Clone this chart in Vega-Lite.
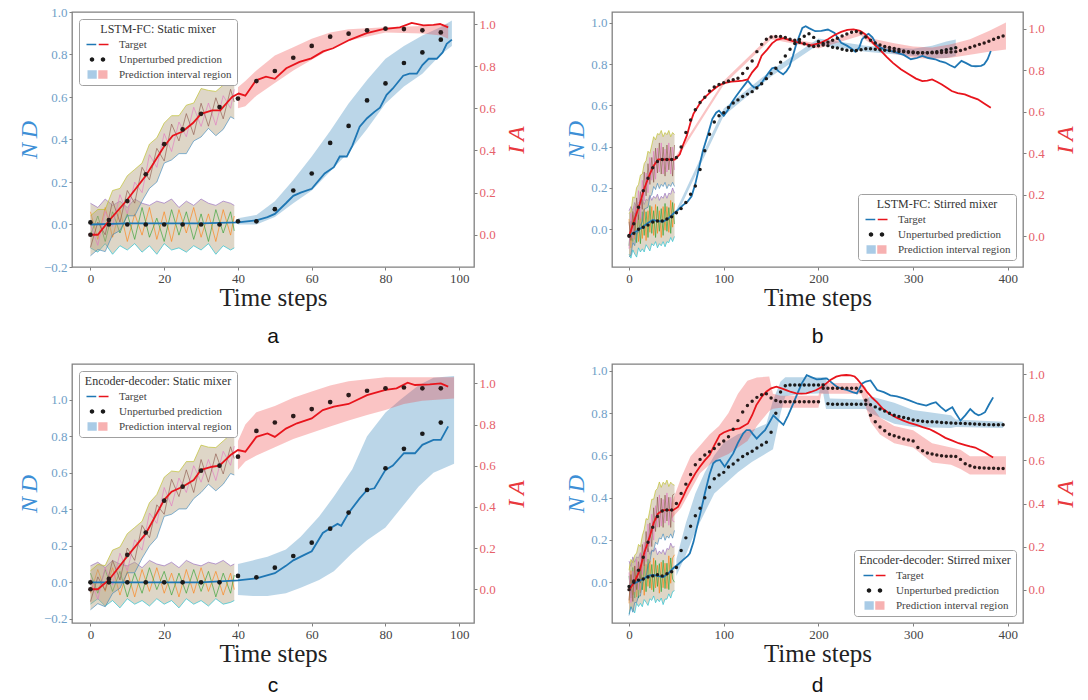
{
"$schema": "https://vega.github.io/schema/vega-lite/v6.json",
"padding": {"left": 16, "top": 5, "right": 0, "bottom": 0},
"background": "white",
"config": {
 "font": "Liberation Serif",
 "view": {"stroke": "#808080", "strokeWidth": 1.3},
 "axis": {"grid": false, "domain": false, "tickSize": 3, "tickColor": "#808080", "labelFont": "Liberation Serif", "labelFontSize": 13, "labelPadding": 2, "titleFont": "Liberation Serif", "titleFontWeight": "normal"},
 "axisX": {"labelColor": "#444444", "titleFontSize": 25, "titleColor": "#222222", "titlePadding": 0, "labelFlush": false, "format": "d"},
 "legend": {"fillColor": "white", "strokeColor": "#a0a0a0", "cornerRadius": 3, "padding": 5, "offset": 7, "titleFont": "Liberation Serif", "titleFontSize": 12, "titleFontWeight": "normal", "titleColor": "#333333", "titleAlign": "center", "titleAnchor": "middle", "titlePadding": 3, "labelFont": "Liberation Serif", "labelFontSize": 11, "labelColor": "#444444", "symbolSize": 100, "symbolOffset": 8, "labelOffset": 16, "rowPadding": 3, "symbolOpacity": 1, "symbolStrokeWidth": 0, "labelLimit": 220},
 "title": {"font": "Liberation Sans", "fontSize": 21, "fontWeight": "normal", "color": "#111111", "anchor": "middle"}
},
"datasets": {
 "leg": [{"lab": "Target"}, {"lab": "Unperturbed prediction"}, {"lab": "Prediction interval region"}],
 "a_nl": [{"t":0,"v":0},{"t":10,"v":0.005},{"t":20,"v":0.005},{"t":30,"v":0.005},{"t":40,"v":0.01},{"t":45,"v":0.02},{"t":48,"v":0.035},{"t":50,"v":0.05},{"t":53,"v":0.1},{"t":55,"v":0.135},{"t":57,"v":0.15},{"t":60,"v":0.168},{"t":63.5,"v":0.24},{"t":66,"v":0.27},{"t":67.6,"v":0.32},{"t":69.5,"v":0.32},{"t":71,"v":0.37},{"t":73,"v":0.46},{"t":75,"v":0.5},{"t":77,"v":0.53},{"t":78.5,"v":0.55},{"t":80.3,"v":0.61},{"t":82,"v":0.64},{"t":84.8,"v":0.7},{"t":86.5,"v":0.71},{"t":88.5,"v":0.71},{"t":90,"v":0.75},{"t":91.7,"v":0.78},{"t":93.9,"v":0.78},{"t":95.5,"v":0.81},{"t":96.6,"v":0.85},{"t":98,"v":0.87}],
 "a_il": [{"t":0,"v":0},{"t":2,"v":0},{"t":5.2,"v":0.07},{"t":9.7,"v":0.16},{"t":15,"v":0.28},{"t":20,"v":0.42},{"t":22.3,"v":0.47},{"t":25,"v":0.49},{"t":27.8,"v":0.53},{"t":30,"v":0.574},{"t":33,"v":0.59},{"t":35.2,"v":0.59},{"t":38.4,"v":0.654},{"t":40.2,"v":0.67},{"t":42,"v":0.66},{"t":44.9,"v":0.733},{"t":47.6,"v":0.75},{"t":50,"v":0.74},{"t":53.1,"v":0.79},{"t":56.7,"v":0.82},{"t":59.9,"v":0.837},{"t":63.1,"v":0.87},{"t":65.8,"v":0.885},{"t":70.3,"v":0.925},{"t":74.9,"v":0.957},{"t":79.4,"v":0.976},{"t":83.9,"v":0.984},{"t":87.1,"v":1.005},{"t":90.3,"v":0.994},{"t":93,"v":0.996},{"t":94.8,"v":1.0},{"t":97,"v":0.984}],
 "a_nd": [{"t":0,"v":0.01},{"t":5,"v":0},{"t":10,"v":0},{"t":15,"v":0},{"t":20,"v":0},{"t":25,"v":0},{"t":30,"v":0},{"t":35,"v":0},{"t":40,"v":0.015},{"t":45,"v":0.015},{"t":50,"v":0.072},{"t":55,"v":0.16},{"t":60,"v":0.24},{"t":65,"v":0.384},{"t":70,"v":0.464},{"t":75,"v":0.584},{"t":80,"v":0.664},{"t":85,"v":0.76},{"t":90,"v":0.81},{"t":95,"v":0.87}],
 "a_id": [{"t":0,"v":0},{"t":5,"v":0.07},{"t":10,"v":0.16},{"t":15,"v":0.287},{"t":20,"v":0.43},{"t":25,"v":0.5},{"t":30,"v":0.574},{"t":35,"v":0.606},{"t":40,"v":0.646},{"t":45,"v":0.729},{"t":50,"v":0.777},{"t":55,"v":0.84},{"t":60,"v":0.896},{"t":65,"v":0.94},{"t":70,"v":0.954},{"t":75,"v":0.97},{"t":80,"v":0.978},{"t":85,"v":0.976},{"t":90,"v":0.97},{"t":95,"v":0.96}],
 "a_nb": [{"t":40,"lo":0,"hi":0.03},{"t":45,"lo":0,"hi":0.045},{"t":50,"lo":0.035,"hi":0.11},{"t":55,"lo":0.1,"hi":0.21},{"t":60,"lo":0.16,"hi":0.32},{"t":65,"lo":0.25,"hi":0.44},{"t":70,"lo":0.34,"hi":0.57},{"t":75,"lo":0.45,"hi":0.68},{"t":80,"lo":0.57,"hi":0.78},{"t":85,"lo":0.65,"hi":0.84},{"t":90,"lo":0.71,"hi":0.89},{"t":95,"lo":0.8,"hi":0.93},{"t":98,"lo":0.84,"hi":0.96}],
 "a_ib": [{"t":40,"lo":0.6,"hi":0.7},{"t":42,"lo":0.61,"hi":0.73},{"t":45,"lo":0.66,"hi":0.78},{"t":50,"lo":0.72,"hi":0.85},{"t":55,"lo":0.78,"hi":0.89},{"t":60,"lo":0.83,"hi":0.93},{"t":65,"lo":0.88,"hi":0.96},{"t":70,"lo":0.92,"hi":0.975},{"t":80,"lo":0.96,"hi":0.985},{"t":90,"lo":0.955,"hi":0.99},{"t":95,"lo":0.945,"hi":0.995},{"t":97,"lo":0.93,"hi":1.0}],
 "a_nn": [{"t":0,"lo":-0.11,"hi":0.1,"z1":0.06,"z2":-0.05},{"t":2,"lo":-0.13,"hi":0.08,"z1":-0.07,"z2":0.04},{"t":4,"lo":-0.09,"hi":0.12,"z1":0.08,"z2":-0.08},{"t":6,"lo":-0.14,"hi":0.09,"z1":-0.06,"z2":0.06},{"t":8,"lo":-0.1,"hi":0.11,"z1":0.07,"z2":-0.04},{"t":10,"lo":-0.12,"hi":0.08,"z1":-0.08,"z2":0.05},{"t":12,"lo":-0.09,"hi":0.12,"z1":0.05,"z2":-0.07},{"t":14,"lo":-0.13,"hi":0.1,"z1":-0.05,"z2":0.08},{"t":16,"lo":-0.1,"hi":0.09,"z1":0.08,"z2":-0.06},{"t":18,"lo":-0.14,"hi":0.11,"z1":-0.07,"z2":0.03},{"t":20,"lo":-0.09,"hi":0.1,"z1":0.06,"z2":-0.08},{"t":22,"lo":-0.12,"hi":0.12,"z1":-0.08,"z2":0.07},{"t":24,"lo":-0.11,"hi":0.08,"z1":0.07,"z2":-0.05},{"t":26,"lo":-0.13,"hi":0.11,"z1":-0.04,"z2":0.06},{"t":28,"lo":-0.1,"hi":0.09,"z1":0.08,"z2":-0.07},{"t":30,"lo":-0.12,"hi":0.12,"z1":-0.06,"z2":0.05},{"t":32,"lo":-0.09,"hi":0.1,"z1":0.05,"z2":-0.08},{"t":34,"lo":-0.14,"hi":0.09,"z1":-0.08,"z2":0.07},{"t":36,"lo":-0.1,"hi":0.11,"z1":0.07,"z2":-0.04},{"t":38,"lo":-0.12,"hi":0.1,"z1":-0.05,"z2":0.06},{"t":39,"lo":-0.11,"hi":0.09,"z1":0.04,"z2":-0.03}],
 "a_in": [{"t":0,"lo":-0.1,"hi":0.09,"z1":0.05,"z2":-0.06},{"t":2,"lo":-0.07,"hi":0.12,"z1":-0.05,"z2":0.06},{"t":4,"lo":-0.08,"hi":0.12,"z1":0.11,"z2":0},{"t":6,"lo":0,"hi":0.21,"z1":0.04,"z2":0.16},{"t":8,"lo":0.02,"hi":0.22,"z1":0.19,"z2":0.06},{"t":10,"lo":0.09,"hi":0.28,"z1":0.1,"z2":0.21},{"t":12,"lo":0.09,"hi":0.31,"z1":0.25,"z2":0.15},{"t":14,"lo":0.16,"hi":0.34,"z1":0.2,"z2":0.32},{"t":16,"lo":0.22,"hi":0.43,"z1":0.38,"z2":0.26},{"t":18,"lo":0.25,"hi":0.46,"z1":0.32,"z2":0.41},{"t":20,"lo":0.34,"hi":0.53,"z1":0.48,"z2":0.35},{"t":22,"lo":0.355,"hi":0.565,"z1":0.395,"z2":0.525},{"t":24,"lo":0.385,"hi":0.565,"z1":0.535,"z2":0.445},{"t":26,"lo":0.385,"hi":0.615,"z1":0.465,"z2":0.575},{"t":28,"lo":0.445,"hi":0.625,"z1":0.605,"z2":0.475},{"t":30,"lo":0.464,"hi":0.694,"z1":0.514,"z2":0.624},{"t":32,"lo":0.505,"hi":0.685,"z1":0.625,"z2":0.515},{"t":34,"lo":0.47,"hi":0.68,"z1":0.52,"z2":0.65},{"t":36,"lo":0.5,"hi":0.71,"z1":0.66,"z2":0.55},{"t":38,"lo":0.56,"hi":0.75,"z1":0.6,"z2":0.69},{"t":39,"lo":0.55,"hi":0.75,"z1":0.69,"z2":0.63}],
 "b_nl": [{"t":0,"v":-0.03},{"t":8,"v":-0.01},{"t":15,"v":0.013},{"t":20,"v":0.03},{"t":25,"v":0.045},{"t":30,"v":0.04},{"t":36,"v":0.037},{"t":41,"v":0.05},{"t":47,"v":0.077},{"t":52,"v":0.095},{"t":57,"v":0.117},{"t":62,"v":0.135},{"t":66,"v":0.16},{"t":70,"v":0.22},{"t":74,"v":0.3},{"t":78,"v":0.38},{"t":83,"v":0.455},{"t":88,"v":0.535},{"t":92,"v":0.565},{"t":95,"v":0.575},{"t":100,"v":0.55},{"t":104,"v":0.575},{"t":108.5,"v":0.615},{"t":113,"v":0.645},{"t":118.6,"v":0.68},{"t":122,"v":0.7},{"t":125.4,"v":0.72},{"t":129,"v":0.7},{"t":132,"v":0.687},{"t":135,"v":0.69},{"t":139,"v":0.703},{"t":143,"v":0.73},{"t":147.5,"v":0.76},{"t":151,"v":0.78},{"t":154,"v":0.784},{"t":158,"v":0.765},{"t":162.7,"v":0.751},{"t":166,"v":0.765},{"t":169.5,"v":0.79},{"t":173,"v":0.84},{"t":176,"v":0.888},{"t":180,"v":0.94},{"t":183,"v":0.976},{"t":186.5,"v":0.984},{"t":190,"v":0.975},{"t":196.6,"v":0.96},{"t":203,"v":0.962},{"t":210,"v":0.968},{"t":217,"v":0.952},{"t":220,"v":0.93},{"t":224,"v":0.904},{"t":230,"v":0.89},{"t":235,"v":0.875},{"t":239,"v":0.86},{"t":243,"v":0.88},{"t":246,"v":0.92},{"t":250,"v":0.94},{"t":253,"v":0.947},{"t":257,"v":0.93},{"t":262,"v":0.89},{"t":270,"v":0.87},{"t":280,"v":0.86},{"t":290,"v":0.845},{"t":297.6,"v":0.824},{"t":304,"v":0.83},{"t":309.7,"v":0.84},{"t":316,"v":0.83},{"t":323.4,"v":0.824},{"t":328,"v":0.815},{"t":333.8,"v":0.808},{"t":339,"v":0.795},{"t":344,"v":0.784},{"t":347.5,"v":0.8},{"t":351,"v":0.816},{"t":356,"v":0.805},{"t":361.4,"v":0.792},{"t":366,"v":0.79},{"t":371.7,"v":0.792},{"t":375,"v":0.8},{"t":378.6,"v":0.824},{"t":382,"v":0.864}],
 "b_il": [{"t":0,"v":0},{"t":5,"v":0.07},{"t":11.3,"v":0.156},{"t":16,"v":0.23},{"t":21.9,"v":0.3},{"t":26,"v":0.34},{"t":30.7,"v":0.37},{"t":37.7,"v":0.37},{"t":43,"v":0.37},{"t":48.3,"v":0.37},{"t":53.6,"v":0.395},{"t":57,"v":0.44},{"t":61,"v":0.485},{"t":65,"v":0.55},{"t":68,"v":0.59},{"t":71,"v":0.612},{"t":76,"v":0.65},{"t":81.4,"v":0.676},{"t":86,"v":0.695},{"t":91.5,"v":0.716},{"t":96,"v":0.73},{"t":101.7,"v":0.74},{"t":108,"v":0.745},{"t":115.3,"v":0.748},{"t":120,"v":0.75},{"t":125.4,"v":0.756},{"t":130,"v":0.79},{"t":135.6,"v":0.82},{"t":140,"v":0.87},{"t":145.8,"v":0.9},{"t":151,"v":0.93},{"t":156,"v":0.947},{"t":162.7,"v":0.955},{"t":168,"v":0.948},{"t":173,"v":0.94},{"t":183,"v":0.93},{"t":193,"v":0.92},{"t":203.4,"v":0.935},{"t":210,"v":0.95},{"t":217,"v":0.97},{"t":224,"v":0.985},{"t":230.5,"v":0.995},{"t":237,"v":0.997},{"t":244,"v":0.99},{"t":249,"v":0.975},{"t":254.5,"v":0.947},{"t":260,"v":0.92},{"t":264.8,"v":0.9},{"t":272,"v":0.865},{"t":278.6,"v":0.836},{"t":287,"v":0.805},{"t":295.9,"v":0.78},{"t":303,"v":0.76},{"t":309.7,"v":0.748},{"t":315,"v":0.75},{"t":320,"v":0.756},{"t":325,"v":0.745},{"t":330.3,"v":0.732},{"t":336,"v":0.715},{"t":340.7,"v":0.7},{"t":347,"v":0.69},{"t":354.5,"v":0.684},{"t":361,"v":0.672},{"t":368.3,"v":0.66},{"t":375,"v":0.64},{"t":382,"v":0.62}],
 "b_nd": [{"t":0,"v":-0.03},{"t":5,"v":-0.02},{"t":10,"v":0},{"t":15,"v":0.01},{"t":20,"v":0.02},{"t":25,"v":0.035},{"t":30,"v":0.04},{"t":35,"v":0.04},{"t":40,"v":0.05},{"t":45,"v":0.06},{"t":50,"v":0.08},{"t":55,"v":0.1},{"t":60,"v":0.13},{"t":65,"v":0.17},{"t":70,"v":0.21},{"t":75,"v":0.29},{"t":80,"v":0.38},{"t":85,"v":0.46},{"t":90,"v":0.52},{"t":95,"v":0.55},{"t":100,"v":0.565},{"t":105,"v":0.59},{"t":110,"v":0.612},{"t":115,"v":0.627},{"t":120,"v":0.643},{"t":125,"v":0.655},{"t":130,"v":0.667},{"t":135,"v":0.685},{"t":140,"v":0.705},{"t":145,"v":0.73},{"t":150,"v":0.755},{"t":155,"v":0.78},{"t":160,"v":0.81},{"t":165,"v":0.84},{"t":170,"v":0.872},{"t":175,"v":0.9},{"t":180,"v":0.92},{"t":185,"v":0.935},{"t":190,"v":0.948},{"t":195,"v":0.93},{"t":200,"v":0.91},{"t":205,"v":0.9},{"t":210,"v":0.89},{"t":215,"v":0.882},{"t":220,"v":0.878},{"t":225,"v":0.872},{"t":230,"v":0.868},{"t":235,"v":0.866},{"t":240,"v":0.866},{"t":245,"v":0.87},{"t":250,"v":0.875},{"t":255,"v":0.875},{"t":260,"v":0.872},{"t":265,"v":0.87},{"t":270,"v":0.868},{"t":275,"v":0.866},{"t":280,"v":0.864},{"t":285,"v":0.862},{"t":290,"v":0.86},{"t":295,"v":0.858},{"t":300,"v":0.856},{"t":305,"v":0.855},{"t":310,"v":0.855},{"t":315,"v":0.856},{"t":320,"v":0.858},{"t":325,"v":0.86},{"t":330,"v":0.865},{"t":335,"v":0.87},{"t":340,"v":0.875},{"t":345,"v":0.88}],
 "b_id": [{"t":0,"v":0},{"t":5,"v":0.06},{"t":10,"v":0.14},{"t":15,"v":0.22},{"t":20,"v":0.28},{"t":25,"v":0.33},{"t":30,"v":0.36},{"t":35,"v":0.37},{"t":40,"v":0.37},{"t":45,"v":0.37},{"t":50,"v":0.38},{"t":55,"v":0.43},{"t":60,"v":0.5},{"t":65,"v":0.56},{"t":70,"v":0.61},{"t":75,"v":0.645},{"t":80,"v":0.67},{"t":85,"v":0.7},{"t":90,"v":0.72},{"t":95,"v":0.732},{"t":100,"v":0.74},{"t":105,"v":0.748},{"t":110,"v":0.755},{"t":115,"v":0.762},{"t":120,"v":0.785},{"t":125,"v":0.81},{"t":130,"v":0.845},{"t":135,"v":0.89},{"t":140,"v":0.925},{"t":145,"v":0.95},{"t":150,"v":0.96},{"t":155,"v":0.963},{"t":160,"v":0.963},{"t":165,"v":0.958},{"t":170,"v":0.95},{"t":175,"v":0.945},{"t":180,"v":0.935},{"t":185,"v":0.928},{"t":190,"v":0.918},{"t":195,"v":0.915},{"t":200,"v":0.918},{"t":205,"v":0.922},{"t":210,"v":0.935},{"t":215,"v":0.945},{"t":220,"v":0.955},{"t":225,"v":0.965},{"t":230,"v":0.975},{"t":235,"v":0.983},{"t":240,"v":0.987},{"t":245,"v":0.98},{"t":250,"v":0.96},{"t":255,"v":0.945},{"t":260,"v":0.932},{"t":265,"v":0.922},{"t":270,"v":0.915},{"t":275,"v":0.91},{"t":280,"v":0.905},{"t":285,"v":0.9},{"t":290,"v":0.893},{"t":295,"v":0.89},{"t":300,"v":0.888},{"t":305,"v":0.885},{"t":310,"v":0.884},{"t":315,"v":0.884},{"t":320,"v":0.884},{"t":325,"v":0.885},{"t":330,"v":0.886},{"t":335,"v":0.887},{"t":340,"v":0.888},{"t":345,"v":0.89},{"t":350,"v":0.895},{"t":355,"v":0.902},{"t":360,"v":0.91},{"t":365,"v":0.917},{"t":370,"v":0.925},{"t":375,"v":0.932},{"t":380,"v":0.94},{"t":385,"v":0.95},{"t":390,"v":0.958},{"t":395,"v":0.965}],
 "b_nb": [{"t":50,"lo":0.065,"hi":0.095},{"t":100,"lo":0.55,"hi":0.585},{"t":150,"lo":0.74,"hi":0.77},{"t":200,"lo":0.895,"hi":0.925},{"t":250,"lo":0.86,"hi":0.89},{"t":300,"lo":0.84,"hi":0.875},{"t":320,"lo":0.83,"hi":0.89},{"t":335,"lo":0.83,"hi":0.91},{"t":345,"lo":0.84,"hi":0.92}],
 "b_ib": [{"t":50,"lo":0.37,"hi":0.39},{"t":100,"lo":0.73,"hi":0.75},{"t":150,"lo":0.95,"hi":0.97},{"t":200,"lo":0.905,"hi":0.928},{"t":245,"lo":0.968,"hi":0.99},{"t":250,"lo":0.945,"hi":0.97},{"t":260,"lo":0.915,"hi":0.95},{"t":280,"lo":0.88,"hi":0.93},{"t":300,"lo":0.86,"hi":0.915},{"t":320,"lo":0.855,"hi":0.91},{"t":340,"lo":0.86,"hi":0.925},{"t":360,"lo":0.875,"hi":0.95},{"t":380,"lo":0.89,"hi":0.99},{"t":398,"lo":0.9,"hi":1.03}],
 "b_nn": [{"t":0,"lo":-0.12,"hi":0.09,"z1":0.05,"z2":-0.08},{"t":2,"lo":-0.14,"hi":0.11,"z1":-0.09,"z2":0.04},{"t":4,"lo":-0.1,"hi":0.09,"z1":0.07,"z2":-0.06},{"t":6,"lo":-0.12,"hi":0.13,"z1":-0.05,"z2":0.08},{"t":8,"lo":-0.135,"hi":0.105,"z1":0.085,"z2":-0.065},{"t":10,"lo":-0.09,"hi":0.13,"z1":-0.06,"z2":0.07},{"t":12,"lo":-0.11,"hi":0.12,"z1":0.06,"z2":-0.07},{"t":14,"lo":-0.095,"hi":0.145,"z1":-0.045,"z2":0.085},{"t":16,"lo":-0.11,"hi":0.12,"z1":0.1,"z2":-0.03},{"t":18,"lo":-0.075,"hi":0.145,"z1":-0.055,"z2":0.085},{"t":20,"lo":-0.09,"hi":0.14,"z1":0.09,"z2":-0.04},{"t":22,"lo":-0.105,"hi":0.165,"z1":-0.015,"z2":0.115},{"t":24,"lo":-0.07,"hi":0.14,"z1":0.11,"z2":-0.02},{"t":26,"lo":-0.08,"hi":0.16,"z1":-0.03,"z2":0.09},{"t":28,"lo":-0.06,"hi":0.15,"z1":0.12,"z2":-0.04},{"t":30,"lo":-0.09,"hi":0.17,"z1":-0.02,"z2":0.11},{"t":32,"lo":-0.07,"hi":0.14,"z1":0.09,"z2":-0.01},{"t":34,"lo":-0.08,"hi":0.16,"z1":-0.04,"z2":0.1},{"t":36,"lo":-0.06,"hi":0.15,"z1":0.11,"z2":-0.03},{"t":38,"lo":-0.085,"hi":0.175,"z1":-0.005,"z2":0.125},{"t":40,"lo":-0.06,"hi":0.15,"z1":0.11,"z2":-0.01},{"t":42,"lo":-0.065,"hi":0.175,"z1":-0.015,"z2":0.105},{"t":44,"lo":-0.04,"hi":0.17,"z1":0.14,"z2":-0.02},{"t":46,"lo":-0.06,"hi":0.2,"z1":0.01,"z2":0.13},{"t":48,"lo":-0.035,"hi":0.175,"z1":0.125,"z2":0.025}],
 "b_in": [{"t":0,"lo":-0.1,"hi":0.11,"z1":-0.06,"z2":0.07},{"t":2,"lo":-0.09,"hi":0.12,"z1":0.11,"z2":-0.02},{"t":4,"lo":-0.03,"hi":0.19,"z1":-0.01,"z2":0.12},{"t":6,"lo":-0.045,"hi":0.185,"z1":0.145,"z2":0.005},{"t":8,"lo":0.015,"hi":0.235,"z1":0.065,"z2":0.185},{"t":10,"lo":0.02,"hi":0.25,"z1":0.22,"z2":0.08},{"t":12,"lo":0.055,"hi":0.295,"z1":0.085,"z2":0.215},{"t":14,"lo":0.07,"hi":0.3,"z1":0.27,"z2":0.13},{"t":16,"lo":0.13,"hi":0.35,"z1":0.17,"z2":0.31},{"t":18,"lo":0.135,"hi":0.365,"z1":0.305,"z2":0.195},{"t":20,"lo":0.14,"hi":0.41,"z1":0.21,"z2":0.35},{"t":22,"lo":0.19,"hi":0.4,"z1":0.38,"z2":0.25},{"t":24,"lo":0.2,"hi":0.44,"z1":0.27,"z2":0.38},{"t":26,"lo":0.24,"hi":0.48,"z1":0.41,"z2":0.26},{"t":28,"lo":0.225,"hi":0.465,"z1":0.275,"z2":0.425},{"t":30,"lo":0.255,"hi":0.495,"z1":0.425,"z2":0.305},{"t":32,"lo":0.23,"hi":0.49,"z1":0.31,"z2":0.45},{"t":34,"lo":0.25,"hi":0.51,"z1":0.45,"z2":0.3},{"t":36,"lo":0.24,"hi":0.48,"z1":0.3,"z2":0.43},{"t":38,"lo":0.26,"hi":0.5,"z1":0.42,"z2":0.29},{"t":40,"lo":0.23,"hi":0.49,"z1":0.31,"z2":0.44},{"t":42,"lo":0.25,"hi":0.51,"z1":0.45,"z2":0.32},{"t":44,"lo":0.24,"hi":0.48,"z1":0.3,"z2":0.43},{"t":46,"lo":0.26,"hi":0.5,"z1":0.43,"z2":0.29},{"t":48,"lo":0.24,"hi":0.49,"z1":0.32,"z2":0.44}],
 "c_nl": [{"t":0,"v":0},{"t":10,"v":0},{"t":20,"v":0},{"t":30,"v":0},{"t":40,"v":0.01},{"t":45,"v":0.022},{"t":50,"v":0.05},{"t":53,"v":0.09},{"t":55,"v":0.12},{"t":58,"v":0.15},{"t":60,"v":0.17},{"t":63,"v":0.27},{"t":65,"v":0.296},{"t":67,"v":0.32},{"t":68,"v":0.31},{"t":70,"v":0.38},{"t":73,"v":0.46},{"t":75,"v":0.506},{"t":77,"v":0.515},{"t":80,"v":0.616},{"t":82,"v":0.64},{"t":85,"v":0.707},{"t":88,"v":0.707},{"t":90,"v":0.753},{"t":93,"v":0.78},{"t":95,"v":0.78},{"t":97,"v":0.854}],
 "c_il": [{"t":0,"v":0},{"t":2,"v":0},{"t":5,"v":0.045},{"t":10,"v":0.16},{"t":15,"v":0.27},{"t":20,"v":0.434},{"t":22,"v":0.474},{"t":25,"v":0.498},{"t":28,"v":0.53},{"t":30,"v":0.58},{"t":33,"v":0.595},{"t":35,"v":0.6},{"t":38,"v":0.652},{"t":40,"v":0.676},{"t":42,"v":0.668},{"t":45,"v":0.74},{"t":48,"v":0.757},{"t":50,"v":0.74},{"t":53,"v":0.78},{"t":56,"v":0.806},{"t":60,"v":0.83},{"t":63,"v":0.87},{"t":66,"v":0.887},{"t":70,"v":0.9},{"t":75,"v":0.943},{"t":80,"v":0.968},{"t":83,"v":0.976},{"t":86,"v":1.003},{"t":88,"v":0.992},{"t":92,"v":0.995},{"t":95,"v":1.0},{"t":97,"v":0.984}],
 "c_nd": [{"t":0,"v":0},{"t":5,"v":0},{"t":10,"v":0},{"t":15,"v":0},{"t":20,"v":0},{"t":25,"v":0},{"t":30,"v":0},{"t":35,"v":0},{"t":40,"v":0.035},{"t":45,"v":0.027},{"t":50,"v":0.08},{"t":55,"v":0.144},{"t":60,"v":0.217},{"t":65,"v":0.294},{"t":70,"v":0.382},{"t":75,"v":0.506},{"t":80,"v":0.625},{"t":85,"v":0.731},{"t":90,"v":0.814},{"t":95,"v":0.875}],
 "c_id": [{"t":0,"v":0},{"t":5,"v":0.05},{"t":10,"v":0.167},{"t":15,"v":0.275},{"t":20,"v":0.43},{"t":25,"v":0.498},{"t":30,"v":0.576},{"t":35,"v":0.6},{"t":40,"v":0.644},{"t":45,"v":0.769},{"t":50,"v":0.81},{"t":55,"v":0.841},{"t":60,"v":0.875},{"t":65,"v":0.909},{"t":70,"v":0.943},{"t":75,"v":0.964},{"t":80,"v":0.976},{"t":85,"v":0.98},{"t":90,"v":0.976},{"t":95,"v":0.976}],
 "c_nb": [{"t":40,"lo":-0.07,"hi":0.1},{"t":44,"lo":-0.075,"hi":0.12},{"t":48,"lo":-0.075,"hi":0.14},{"t":53,"lo":-0.06,"hi":0.18},{"t":57,"lo":-0.03,"hi":0.25},{"t":62,"lo":0.013,"hi":0.36},{"t":66,"lo":0.06,"hi":0.47},{"t":71,"lo":0.16,"hi":0.62},{"t":75,"lo":0.23,"hi":0.8},{"t":80,"lo":0.3,"hi":0.93},{"t":84,"lo":0.4,"hi":1.0},{"t":89,"lo":0.525,"hi":1.08},{"t":93,"lo":0.6,"hi":1.12},{"t":98.6,"lo":0.65,"hi":1.13}],
 "c_ib": [{"t":40,"lo":0.58,"hi":0.72},{"t":42,"lo":0.62,"hi":0.8},{"t":45,"lo":0.65,"hi":0.86},{"t":50,"lo":0.69,"hi":0.89},{"t":55,"lo":0.73,"hi":0.93},{"t":60,"lo":0.76,"hi":0.96},{"t":65,"lo":0.79,"hi":0.99},{"t":70,"lo":0.82,"hi":1.01},{"t":75,"lo":0.846,"hi":1.02},{"t":80,"lo":0.87,"hi":1.03},{"t":85,"lo":0.9,"hi":1.03},{"t":90,"lo":0.915,"hi":1.03},{"t":98.6,"lo":0.927,"hi":1.03}],
 "c_nn": [{"t":0,"lo":-0.12,"hi":0.09,"z1":-0.06,"z2":0.05},{"t":2,"lo":-0.09,"hi":0.11,"z1":0.07,"z2":-0.06},{"t":4,"lo":-0.13,"hi":0.08,"z1":-0.05,"z2":0.07},{"t":6,"lo":-0.1,"hi":0.12,"z1":0.08,"z2":-0.05},{"t":8,"lo":-0.14,"hi":0.1,"z1":-0.07,"z2":0.06},{"t":10,"lo":-0.09,"hi":0.09,"z1":0.06,"z2":-0.08},{"t":12,"lo":-0.12,"hi":0.11,"z1":-0.08,"z2":0.05},{"t":14,"lo":-0.1,"hi":0.08,"z1":0.07,"z2":-0.06},{"t":16,"lo":-0.13,"hi":0.12,"z1":-0.05,"z2":0.08},{"t":18,"lo":-0.09,"hi":0.1,"z1":0.08,"z2":-0.04},{"t":20,"lo":-0.12,"hi":0.09,"z1":-0.06,"z2":0.06},{"t":22,"lo":-0.1,"hi":0.11,"z1":0.05,"z2":-0.07},{"t":24,"lo":-0.14,"hi":0.08,"z1":-0.08,"z2":0.05},{"t":26,"lo":-0.09,"hi":0.12,"z1":0.07,"z2":-0.06},{"t":28,"lo":-0.12,"hi":0.1,"z1":-0.06,"z2":0.07},{"t":30,"lo":-0.1,"hi":0.09,"z1":0.08,"z2":-0.05},{"t":32,"lo":-0.13,"hi":0.11,"z1":-0.05,"z2":0.06},{"t":34,"lo":-0.09,"hi":0.1,"z1":0.06,"z2":-0.08},{"t":36,"lo":-0.12,"hi":0.12,"z1":-0.07,"z2":0.05},{"t":38,"lo":-0.11,"hi":0.09,"z1":0.05,"z2":-0.06},{"t":39,"lo":-0.1,"hi":0.1,"z1":-0.04,"z2":0.04}],
 "c_in": [{"t":0,"lo":-0.1,"hi":0.09,"z1":0.05,"z2":-0.06},{"t":2,"lo":-0.07,"hi":0.12,"z1":-0.05,"z2":0.06},{"t":4,"lo":-0.085,"hi":0.115,"z1":0.105,"z2":-0.005},{"t":6,"lo":-0.02,"hi":0.19,"z1":0.02,"z2":0.14},{"t":8,"lo":0.005,"hi":0.205,"z1":0.175,"z2":0.045},{"t":10,"lo":0.08,"hi":0.27,"z1":0.09,"z2":0.2},{"t":12,"lo":0.08,"hi":0.3,"z1":0.24,"z2":0.14},{"t":14,"lo":0.15,"hi":0.33,"z1":0.19,"z2":0.31},{"t":16,"lo":0.21,"hi":0.42,"z1":0.37,"z2":0.25},{"t":18,"lo":0.25,"hi":0.46,"z1":0.32,"z2":0.41},{"t":20,"lo":0.354,"hi":0.544,"z1":0.494,"z2":0.364},{"t":22,"lo":0.364,"hi":0.574,"z1":0.404,"z2":0.534},{"t":24,"lo":0.39,"hi":0.57,"z1":0.54,"z2":0.45},{"t":26,"lo":0.39,"hi":0.62,"z1":0.47,"z2":0.58},{"t":28,"lo":0.44,"hi":0.62,"z1":0.6,"z2":0.47},{"t":30,"lo":0.47,"hi":0.7,"z1":0.52,"z2":0.63},{"t":32,"lo":0.51,"hi":0.69,"z1":0.63,"z2":0.52},{"t":34,"lo":0.478,"hi":0.688,"z1":0.528,"z2":0.658},{"t":36,"lo":0.51,"hi":0.72,"z1":0.67,"z2":0.56},{"t":38,"lo":0.562,"hi":0.752,"z1":0.602,"z2":0.692},{"t":39,"lo":0.555,"hi":0.755,"z1":0.695,"z2":0.635}],
 "d_nl": [{"t":0,"v":-0.02},{"t":8,"v":0},{"t":14.8,"v":0.014},{"t":20,"v":0.03},{"t":25.4,"v":0.035},{"t":30,"v":0.03},{"t":36,"v":0.024},{"t":41,"v":0.04},{"t":46.6,"v":0.066},{"t":52,"v":0.085},{"t":57.1,"v":0.106},{"t":62,"v":0.125},{"t":64.2,"v":0.137},{"t":68,"v":0.19},{"t":71,"v":0.248},{"t":76,"v":0.34},{"t":80,"v":0.42},{"t":85,"v":0.51},{"t":88.9,"v":0.563},{"t":92,"v":0.575},{"t":96,"v":0.579},{"t":101,"v":0.547},{"t":105,"v":0.575},{"t":110,"v":0.61},{"t":115,"v":0.66},{"t":120.6,"v":0.705},{"t":124,"v":0.72},{"t":127.6,"v":0.72},{"t":131,"v":0.7},{"t":134.8,"v":0.68},{"t":139,"v":0.7},{"t":143.6,"v":0.72},{"t":148,"v":0.755},{"t":152.4,"v":0.79},{"t":157,"v":0.77},{"t":163,"v":0.745},{"t":168,"v":0.79},{"t":173.5,"v":0.847},{"t":178,"v":0.895},{"t":182.3,"v":0.94},{"t":187.6,"v":0.98},{"t":193,"v":0.97},{"t":198.2,"v":0.96},{"t":203,"v":0.962},{"t":208.8,"v":0.965},{"t":214,"v":0.945},{"t":219.4,"v":0.925},{"t":225,"v":0.915},{"t":230,"v":0.91},{"t":236,"v":0.9},{"t":240.6,"v":0.894},{"t":245.9,"v":0.94},{"t":250,"v":0.95},{"t":255,"v":0.955},{"t":262,"v":0.91},{"t":269,"v":0.9},{"t":276,"v":0.885},{"t":282.8,"v":0.88},{"t":290,"v":0.87},{"t":296.6,"v":0.86},{"t":305,"v":0.845},{"t":313.8,"v":0.836},{"t":319,"v":0.845},{"t":324,"v":0.852},{"t":329,"v":0.83},{"t":334.5,"v":0.81},{"t":338,"v":0.82},{"t":341.4,"v":0.828},{"t":345,"v":0.8},{"t":350,"v":0.765},{"t":355,"v":0.79},{"t":360.3,"v":0.82},{"t":365,"v":0.8},{"t":369,"v":0.79},{"t":372,"v":0.795},{"t":375.9,"v":0.805},{"t":380,"v":0.84},{"t":384.5,"v":0.875}],
 "d_il": [{"t":0,"v":0},{"t":5,"v":0.03},{"t":11.3,"v":0.09},{"t":16,"v":0.17},{"t":21.8,"v":0.245},{"t":26,"v":0.31},{"t":30.6,"v":0.353},{"t":35.9,"v":0.369},{"t":41,"v":0.369},{"t":46.4,"v":0.369},{"t":51.7,"v":0.384},{"t":57,"v":0.431},{"t":61,"v":0.47},{"t":65.8,"v":0.508},{"t":70,"v":0.54},{"t":74.6,"v":0.57},{"t":80,"v":0.6},{"t":85.1,"v":0.625},{"t":90,"v":0.67},{"t":95.7,"v":0.718},{"t":100,"v":0.73},{"t":106.2,"v":0.741},{"t":112,"v":0.745},{"t":116.8,"v":0.749},{"t":121,"v":0.76},{"t":125.6,"v":0.772},{"t":130,"v":0.81},{"t":134.4,"v":0.857},{"t":140,"v":0.895},{"t":144.9,"v":0.919},{"t":150,"v":0.935},{"t":155.5,"v":0.943},{"t":161,"v":0.935},{"t":166,"v":0.927},{"t":171,"v":0.918},{"t":176.6,"v":0.912},{"t":182,"v":0.91},{"t":187.2,"v":0.912},{"t":192,"v":0.918},{"t":197.7,"v":0.927},{"t":203,"v":0.94},{"t":208.3,"v":0.958},{"t":213,"v":0.975},{"t":218.8,"v":0.989},{"t":224,"v":0.995},{"t":229.4,"v":0.997},{"t":234,"v":0.995},{"t":238.2,"v":0.99},{"t":241,"v":0.978},{"t":245.2,"v":0.955},{"t":251.7,"v":0.916},{"t":257,"v":0.89},{"t":262,"v":0.87},{"t":268,"v":0.84},{"t":275.9,"v":0.815},{"t":282,"v":0.8},{"t":289.7,"v":0.785},{"t":296,"v":0.775},{"t":303.4,"v":0.765},{"t":310,"v":0.755},{"t":317,"v":0.746},{"t":322,"v":0.735},{"t":327.6,"v":0.722},{"t":334,"v":0.705},{"t":341.4,"v":0.692},{"t":348,"v":0.68},{"t":355,"v":0.671},{"t":360,"v":0.665},{"t":365.5,"v":0.66},{"t":370,"v":0.65},{"t":375.9,"v":0.637},{"t":380,"v":0.625},{"t":384.5,"v":0.614}],
 "d_nd": [{"t":0,"v":-0.02},{"t":5,"v":0},{"t":10,"v":0.01},{"t":15,"v":0.015},{"t":20,"v":0.025},{"t":25,"v":0.03},{"t":30,"v":0.035},{"t":35,"v":0.03},{"t":40,"v":0.04},{"t":45,"v":0.05},{"t":50,"v":0.07},{"t":55,"v":0.15},{"t":60,"v":0.21},{"t":65,"v":0.265},{"t":70,"v":0.315},{"t":75,"v":0.35},{"t":80,"v":0.4},{"t":85,"v":0.45},{"t":90,"v":0.49},{"t":95,"v":0.508},{"t":100,"v":0.52},{"t":105,"v":0.545},{"t":110,"v":0.56},{"t":115,"v":0.578},{"t":120,"v":0.595},{"t":125,"v":0.608},{"t":130,"v":0.62},{"t":135,"v":0.635},{"t":140,"v":0.65},{"t":145,"v":0.663},{"t":150,"v":0.71},{"t":155,"v":0.8},{"t":160,"v":0.9},{"t":165,"v":0.93},{"t":170,"v":0.934},{"t":175,"v":0.934},{"t":180,"v":0.934},{"t":185,"v":0.934},{"t":190,"v":0.934},{"t":195,"v":0.934},{"t":200,"v":0.934},{"t":205,"v":0.934},{"t":210,"v":0.845},{"t":215,"v":0.842},{"t":220,"v":0.842},{"t":225,"v":0.842},{"t":230,"v":0.842},{"t":235,"v":0.842},{"t":240,"v":0.842},{"t":245,"v":0.842},{"t":250,"v":0.842},{"t":255,"v":0.84},{"t":260,"v":0.83},{"t":265,"v":0.82},{"t":270,"v":0.81},{"t":275,"v":0.8},{"t":280,"v":0.79},{"t":285,"v":0.785},{"t":290,"v":0.78},{"t":295,"v":0.775},{"t":300,"v":0.768},{"t":305,"v":0.765},{"t":310,"v":0.762},{"t":315,"v":0.76},{"t":320,"v":0.76},{"t":325,"v":0.758},{"t":330,"v":0.756},{"t":335,"v":0.755},{"t":340,"v":0.754},{"t":345,"v":0.753},{"t":350,"v":0.752},{"t":355,"v":0.751},{"t":360,"v":0.75},{"t":365,"v":0.749},{"t":370,"v":0.748},{"t":375,"v":0.747},{"t":380,"v":0.746},{"t":385,"v":0.745},{"t":390,"v":0.745},{"t":395,"v":0.745}],
 "d_id": [{"t":0,"v":0},{"t":5,"v":0.04},{"t":10,"v":0.09},{"t":15,"v":0.15},{"t":20,"v":0.22},{"t":25,"v":0.29},{"t":30,"v":0.34},{"t":35,"v":0.365},{"t":40,"v":0.37},{"t":45,"v":0.37},{"t":50,"v":0.4},{"t":55,"v":0.447},{"t":60,"v":0.49},{"t":65,"v":0.535},{"t":70,"v":0.58},{"t":75,"v":0.605},{"t":80,"v":0.625},{"t":85,"v":0.64},{"t":90,"v":0.656},{"t":95,"v":0.675},{"t":100,"v":0.69},{"t":105,"v":0.71},{"t":110,"v":0.745},{"t":115,"v":0.785},{"t":120,"v":0.825},{"t":125,"v":0.855},{"t":130,"v":0.875},{"t":135,"v":0.893},{"t":140,"v":0.905},{"t":145,"v":0.91},{"t":150,"v":0.89},{"t":155,"v":0.878},{"t":160,"v":0.873},{"t":165,"v":0.873},{"t":170,"v":0.873},{"t":175,"v":0.873},{"t":180,"v":0.873},{"t":185,"v":0.873},{"t":190,"v":0.873},{"t":195,"v":0.873},{"t":200,"v":0.873},{"t":205,"v":0.935},{"t":210,"v":0.935},{"t":215,"v":0.935},{"t":220,"v":0.935},{"t":225,"v":0.935},{"t":230,"v":0.935},{"t":235,"v":0.935},{"t":240,"v":0.935},{"t":245,"v":0.92},{"t":250,"v":0.88},{"t":255,"v":0.81},{"t":260,"v":0.78},{"t":265,"v":0.755},{"t":270,"v":0.738},{"t":275,"v":0.722},{"t":280,"v":0.715},{"t":285,"v":0.708},{"t":290,"v":0.7},{"t":295,"v":0.695},{"t":300,"v":0.69},{"t":305,"v":0.66},{"t":310,"v":0.645},{"t":315,"v":0.635},{"t":320,"v":0.63},{"t":325,"v":0.625},{"t":330,"v":0.622},{"t":335,"v":0.62},{"t":340,"v":0.62},{"t":345,"v":0.618},{"t":350,"v":0.605},{"t":355,"v":0.585},{"t":360,"v":0.575},{"t":365,"v":0.568},{"t":370,"v":0.566},{"t":375,"v":0.565},{"t":380,"v":0.564},{"t":385,"v":0.564},{"t":390,"v":0.563},{"t":395,"v":0.563}],
 "d_nb": [{"t":50,"lo":0.03,"hi":0.11},{"t":60,"lo":0.13,"hi":0.28},{"t":70,"lo":0.24,"hi":0.42},{"t":80,"lo":0.33,"hi":0.52},{"t":90,"lo":0.42,"hi":0.6},{"t":100,"lo":0.46,"hi":0.66},{"t":115,"lo":0.52,"hi":0.7},{"t":130,"lo":0.57,"hi":0.72},{"t":145,"lo":0.61,"hi":0.75},{"t":152,"lo":0.63,"hi":0.86},{"t":160,"lo":0.8,"hi":0.95},{"t":165,"lo":0.88,"hi":0.97},{"t":180,"lo":0.89,"hi":0.97},{"t":205,"lo":0.895,"hi":0.97},{"t":208,"lo":0.82,"hi":0.97},{"t":212,"lo":0.82,"hi":0.87},{"t":250,"lo":0.82,"hi":0.865},{"t":255,"lo":0.8,"hi":0.88},{"t":280,"lo":0.75,"hi":0.85},{"t":300,"lo":0.735,"hi":0.815},{"t":340,"lo":0.73,"hi":0.79},{"t":345,"lo":0.735,"hi":0.77},{"t":395,"lo":0.73,"hi":0.76}],
 "d_ib": [{"t":45,"lo":0.33,"hi":0.4},{"t":55,"lo":0.38,"hi":0.52},{"t":65,"lo":0.46,"hi":0.62},{"t":75,"lo":0.54,"hi":0.67},{"t":85,"lo":0.58,"hi":0.72},{"t":95,"lo":0.61,"hi":0.76},{"t":105,"lo":0.63,"hi":0.82},{"t":115,"lo":0.66,"hi":0.91},{"t":125,"lo":0.69,"hi":0.97},{"t":135,"lo":0.76,"hi":0.985},{"t":148,"lo":0.83,"hi":0.99},{"t":152,"lo":0.84,"hi":0.91},{"t":160,"lo":0.845,"hi":0.9},{"t":200,"lo":0.845,"hi":0.9},{"t":203,"lo":0.91,"hi":0.96},{"t":245,"lo":0.91,"hi":0.96},{"t":250,"lo":0.85,"hi":0.94},{"t":255,"lo":0.78,"hi":0.86},{"t":265,"lo":0.72,"hi":0.8},{"t":280,"lo":0.68,"hi":0.76},{"t":300,"lo":0.66,"hi":0.74},{"t":320,"lo":0.59,"hi":0.68},{"t":340,"lo":0.58,"hi":0.66},{"t":350,"lo":0.56,"hi":0.65},{"t":360,"lo":0.535,"hi":0.62},{"t":398,"lo":0.535,"hi":0.62}],
 "d_nn": [{"t":0,"lo":-0.15,"hi":0.1,"z1":-0.1,"z2":0.03},{"t":2,"lo":-0.115,"hi":0.075,"z1":0.055,"z2":-0.075},{"t":4,"lo":-0.13,"hi":0.12,"z1":-0.06,"z2":0.07},{"t":6,"lo":-0.145,"hi":0.095,"z1":0.075,"z2":-0.075},{"t":8,"lo":-0.1,"hi":0.12,"z1":-0.07,"z2":0.06},{"t":10,"lo":-0.115,"hi":0.115,"z1":0.055,"z2":-0.075},{"t":12,"lo":-0.1,"hi":0.14,"z1":-0.05,"z2":0.08},{"t":14,"lo":-0.116,"hi":0.114,"z1":0.094,"z2":-0.036},{"t":16,"lo":-0.082,"hi":0.138,"z1":-0.062,"z2":0.078},{"t":18,"lo":-0.095,"hi":0.135,"z1":0.085,"z2":-0.045},{"t":20,"lo":-0.11,"hi":0.16,"z1":-0.02,"z2":0.11},{"t":22,"lo":-0.078,"hi":0.132,"z1":0.102,"z2":-0.028},{"t":24,"lo":-0.086,"hi":0.154,"z1":-0.036,"z2":0.084},{"t":26,"lo":-0.065,"hi":0.145,"z1":0.115,"z2":-0.045},{"t":28,"lo":-0.097,"hi":0.163,"z1":-0.027,"z2":0.103},{"t":30,"lo":-0.08,"hi":0.13,"z1":0.08,"z2":-0.02},{"t":32,"lo":-0.092,"hi":0.148,"z1":-0.052,"z2":0.088},{"t":34,"lo":-0.075,"hi":0.135,"z1":0.095,"z2":-0.045},{"t":36,"lo":-0.106,"hi":0.154,"z1":-0.026,"z2":0.104},{"t":38,"lo":-0.08,"hi":0.13,"z1":0.09,"z2":-0.03},{"t":40,"lo":-0.08,"hi":0.16,"z1":-0.03,"z2":0.09},{"t":42,"lo":-0.055,"hi":0.155,"z1":0.125,"z2":-0.035},{"t":44,"lo":-0.075,"hi":0.185,"z1":-0.005,"z2":0.115},{"t":46,"lo":-0.045,"hi":0.165,"z1":0.115,"z2":0.015},{"t":48,"lo":-0.04,"hi":0.17,"z1":0.13,"z2":0}],
 "d_in": [{"t":0,"lo":-0.12,"hi":0.09,"z1":0.08,"z2":-0.05},{"t":2,"lo":-0.08,"hi":0.14,"z1":-0.06,"z2":0.07},{"t":4,"lo":-0.105,"hi":0.125,"z1":0.085,"z2":-0.055},{"t":6,"lo":-0.06,"hi":0.16,"z1":-0.01,"z2":0.11},{"t":8,"lo":-0.06,"hi":0.17,"z1":0.14,"z2":0},{"t":10,"lo":-0.03,"hi":0.21,"z1":0,"z2":0.13},{"t":12,"lo":-0.03,"hi":0.2,"z1":0.17,"z2":0.03},{"t":14,"lo":0.03,"hi":0.25,"z1":0.07,"z2":0.21},{"t":16,"lo":0.05,"hi":0.28,"z1":0.22,"z2":0.11},{"t":18,"lo":0.06,"hi":0.33,"z1":0.13,"z2":0.27},{"t":20,"lo":0.115,"hi":0.325,"z1":0.305,"z2":0.175},{"t":22,"lo":0.13,"hi":0.37,"z1":0.2,"z2":0.31},{"t":24,"lo":0.18,"hi":0.42,"z1":0.35,"z2":0.2},{"t":26,"lo":0.18,"hi":0.42,"z1":0.23,"z2":0.38},{"t":28,"lo":0.22,"hi":0.46,"z1":0.39,"z2":0.27},{"t":30,"lo":0.21,"hi":0.47,"z1":0.29,"z2":0.43},{"t":32,"lo":0.24,"hi":0.5,"z1":0.44,"z2":0.29},{"t":34,"lo":0.235,"hi":0.475,"z1":0.295,"z2":0.425},{"t":36,"lo":0.259,"hi":0.499,"z1":0.419,"z2":0.289},{"t":38,"lo":0.229,"hi":0.489,"z1":0.309,"z2":0.439},{"t":40,"lo":0.249,"hi":0.509,"z1":0.449,"z2":0.319},{"t":42,"lo":0.239,"hi":0.479,"z1":0.299,"z2":0.429},{"t":44,"lo":0.259,"hi":0.499,"z1":0.429,"z2":0.289},{"t":46,"lo":0.239,"hi":0.489,"z1":0.319,"z2":0.439},{"t":48,"lo":0.275,"hi":0.485,"z1":0.315,"z2":0.445}]
},
"columns": 2,
"spacing": {"row": 97, "column": 138},
"bounds": "flush",
"resolve": {"scale": {"shape": "independent", "color": "independent"}, "legend": {"shape": "independent", "color": "independent"}},
"concat": [
 {"width": 402, "height": 255,
  "title": {"text": "a", "orient": "bottom", "offset": 16},
  "encoding": {"x": {"field": "t", "type": "quantitative", "scale": {"domain": [-5, 104], "nice": false, "zero": false}, "axis": {"values": [0,20,40,60,80,100], "title": "Time steps"}}},
  "layer": [
   {"data": {"name": "a_nn"}, "mark": {"type": "area", "color": "#b5a583", "opacity": 0.45}, "encoding": {"y": {"field": "lo", "type": "quantitative", "scale": {"domain": [-0.2, 1.0], "nice": false, "zero": false}, "axis": {"title": "N\u2009D", "orient": "left", "values": [-0.2,0,0.2,0.4,0.6,0.8,1], "format": ".1f", "minExtent": 29, "maxExtent": 29, "titlePadding": 2, "titleFontSize": 24, "titleFontStyle": "italic", "titleColor": "#3d8fd6", "labelColor": "#6fa0c8"}}, "y2": {"field": "hi"}}},
   {"data": {"name": "a_nn"}, "mark": {"type": "line", "color": "#ff7f0e", "strokeWidth": 0.9, "opacity": 0.7}, "encoding": {"y": {"field": "z1", "type": "quantitative", "scale": {"domain": [-0.2, 1.0], "nice": false, "zero": false}, "axis": null}}},
   {"data": {"name": "a_nn"}, "mark": {"type": "line", "color": "#2ca02c", "strokeWidth": 0.9, "opacity": 0.7}, "encoding": {"y": {"field": "z2", "type": "quantitative", "scale": {"domain": [-0.2, 1.0], "nice": false, "zero": false}, "axis": null}}},
   {"data": {"name": "a_nn"}, "mark": {"type": "line", "color": "#9467bd", "strokeWidth": 0.9, "opacity": 0.7}, "encoding": {"y": {"field": "hi", "type": "quantitative", "scale": {"domain": [-0.2, 1.0], "nice": false, "zero": false}, "axis": null}}},
   {"data": {"name": "a_nn"}, "mark": {"type": "line", "color": "#17becf", "strokeWidth": 0.9, "opacity": 0.7}, "encoding": {"y": {"field": "lo", "type": "quantitative", "scale": {"domain": [-0.2, 1.0], "nice": false, "zero": false}, "axis": null}}},
   {"data": {"name": "a_in"}, "mark": {"type": "area", "color": "#b5a583", "opacity": 0.45}, "encoding": {"y": {"field": "lo", "type": "quantitative", "scale": {"domain": [-0.153, 1.057], "nice": false, "zero": false}, "axis": {"title": "I\u2009A", "orient": "right", "values": [0,0.2,0.4,0.6,0.8,1], "format": ".1f", "minExtent": 22, "maxExtent": 22, "titlePadding": 8, "titleFontSize": 24, "titleFontStyle": "italic", "titleColor": "#e8383d", "labelColor": "#e6606a", "titleAngle": -90, "titleBaseline": "top"}}, "y2": {"field": "hi"}}},
   {"data": {"name": "a_in"}, "mark": {"type": "line", "color": "#e377c2", "strokeWidth": 0.9, "opacity": 0.7}, "encoding": {"y": {"field": "z1", "type": "quantitative", "scale": {"domain": [-0.153, 1.057], "nice": false, "zero": false}, "axis": null}}},
   {"data": {"name": "a_in"}, "mark": {"type": "line", "color": "#8c564b", "strokeWidth": 0.9, "opacity": 0.7}, "encoding": {"y": {"field": "z2", "type": "quantitative", "scale": {"domain": [-0.153, 1.057], "nice": false, "zero": false}, "axis": null}}},
   {"data": {"name": "a_in"}, "mark": {"type": "line", "color": "#bcbd22", "strokeWidth": 0.9, "opacity": 0.7}, "encoding": {"y": {"field": "hi", "type": "quantitative", "scale": {"domain": [-0.153, 1.057], "nice": false, "zero": false}, "axis": null}}},
   {"data": {"name": "a_in"}, "mark": {"type": "line", "color": "#1f77b4", "strokeWidth": 0.9, "opacity": 0.6}, "encoding": {"y": {"field": "lo", "type": "quantitative", "scale": {"domain": [-0.153, 1.057], "nice": false, "zero": false}, "axis": null}}},
   {"data": {"name": "a_nb"}, "mark": {"type": "area", "color": "#1f77b4", "opacity": 0.3}, "encoding": {"y": {"field": "lo", "type": "quantitative", "scale": {"domain": [-0.2, 1.0], "nice": false, "zero": false}, "axis": null}, "y2": {"field": "hi"}}},
   {"data": {"name": "a_ib"}, "mark": {"type": "area", "color": "#f03a3a", "opacity": 0.3}, "encoding": {"y": {"field": "lo", "type": "quantitative", "scale": {"domain": [-0.153, 1.057], "nice": false, "zero": false}, "axis": null}, "y2": {"field": "hi"}}},
   {"data": {"name": "a_nl"}, "mark": {"type": "line", "color": "#1f77b4", "strokeWidth": 1.8}, "encoding": {"y": {"field": "v", "type": "quantitative", "scale": {"domain": [-0.2, 1.0], "nice": false, "zero": false}, "axis": null}}},
   {"data": {"name": "a_il"}, "mark": {"type": "line", "color": "#e8141c", "strokeWidth": 1.8}, "encoding": {"y": {"field": "v", "type": "quantitative", "scale": {"domain": [-0.153, 1.057], "nice": false, "zero": false}, "axis": null}}},
   {"data": {"name": "a_nd"}, "mark": {"type": "point", "filled": true, "color": "#1a1a1a", "size": 22, "opacity": 1}, "encoding": {"y": {"field": "v", "type": "quantitative", "scale": {"domain": [-0.2, 1.0], "nice": false, "zero": false}, "axis": null}}},
   {"data": {"name": "a_id"}, "mark": {"type": "point", "filled": true, "color": "#2b1b1b", "size": 22, "opacity": 1}, "encoding": {"y": {"field": "v", "type": "quantitative", "scale": {"domain": [-0.153, 1.057], "nice": false, "zero": false}, "axis": null}}},
   {"data": {"name": "leg"}, "mark": {"type": "point", "filled": true, "opacity": 0, "size": 1}, "encoding": {"x": {"value": 0}, "y": {"value": 0},
     "shape": {"field": "lab", "type": "nominal", "scale": {"domain": ["Target", "Unperturbed prediction", "Prediction interval region"], "range": ["M-2.2,-0.16H-0.25V0.16H-2.2Z M0.25,-0.16H2.2V0.16H0.25Z", "M-1.55,0A0.45,0.45,0,1,0,-0.65,0A0.45,0.45,0,1,0,-1.55,0Z M0.65,0A0.45,0.45,0,1,0,1.55,0A0.45,0.45,0,1,0,0.65,0Z", "M-2,-0.85H-0.15V0.85H-2Z M0.15,-0.85H2V0.85H0.15Z"]}, "legend": {"title": "LSTM-FC: Static mixer", "orient": "top-left"}},
     "color": {"field": "lab", "type": "nominal", "scale": {"domain": ["Target", "Unperturbed prediction", "Prediction interval region"], "range": [{"expr": "({gradient: 'linear', stops: [{offset: 0, color: '#1f77b4'}, {offset: 0.5, color: '#1f77b4'}, {offset: 0.5, color: '#e8141c'}, {offset: 1, color: '#e8141c'}]})"}, "#1a1a1a", {"expr": "({gradient: 'linear', stops: [{offset: 0, color: '#a9cbe6'}, {offset: 0.5, color: '#a9cbe6'}, {offset: 0.5, color: '#f7b1b1'}, {offset: 1, color: '#f7b1b1'}]})"}]}, "legend": {"title": "LSTM-FC: Static mixer", "orient": "top-left"}}}}
  ],
  "resolve": {"scale": {"y": "independent"}}
 },
 {"width": 411, "height": 255,
  "title": {"text": "b", "orient": "bottom", "offset": 16},
  "encoding": {"x": {"field": "t", "type": "quantitative", "scale": {"domain": [-18, 416], "nice": false, "zero": false}, "axis": {"values": [0,100,200,300,400], "title": "Time steps"}}},
  "layer": [
   {"data": {"name": "b_nn"}, "mark": {"type": "area", "color": "#b5a583", "opacity": 0.45}, "encoding": {"y": {"field": "lo", "type": "quantitative", "scale": {"domain": [-0.183, 1.053], "nice": false, "zero": false}, "axis": {"title": "N\u2009D", "orient": "left", "values": [0,0.2,0.4,0.6,0.8,1], "format": ".1f", "minExtent": 22, "maxExtent": 22, "titlePadding": 2, "titleFontSize": 24, "titleFontStyle": "italic", "titleColor": "#3d8fd6", "labelColor": "#6fa0c8"}}, "y2": {"field": "hi"}}},
   {"data": {"name": "b_nn"}, "mark": {"type": "line", "color": "#ff7f0e", "strokeWidth": 0.9, "opacity": 0.7}, "encoding": {"y": {"field": "z1", "type": "quantitative", "scale": {"domain": [-0.183, 1.053], "nice": false, "zero": false}, "axis": null}}},
   {"data": {"name": "b_nn"}, "mark": {"type": "line", "color": "#2ca02c", "strokeWidth": 0.9, "opacity": 0.7}, "encoding": {"y": {"field": "z2", "type": "quantitative", "scale": {"domain": [-0.183, 1.053], "nice": false, "zero": false}, "axis": null}}},
   {"data": {"name": "b_nn"}, "mark": {"type": "line", "color": "#9467bd", "strokeWidth": 0.9, "opacity": 0.7}, "encoding": {"y": {"field": "hi", "type": "quantitative", "scale": {"domain": [-0.183, 1.053], "nice": false, "zero": false}, "axis": null}}},
   {"data": {"name": "b_nn"}, "mark": {"type": "line", "color": "#17becf", "strokeWidth": 0.9, "opacity": 0.7}, "encoding": {"y": {"field": "lo", "type": "quantitative", "scale": {"domain": [-0.183, 1.053], "nice": false, "zero": false}, "axis": null}}},
   {"data": {"name": "b_in"}, "mark": {"type": "area", "color": "#b5a583", "opacity": 0.45}, "encoding": {"y": {"field": "lo", "type": "quantitative", "scale": {"domain": [-0.148, 1.081], "nice": false, "zero": false}, "axis": {"title": "I\u2009A", "orient": "right", "values": [0,0.2,0.4,0.6,0.8,1], "format": ".1f", "minExtent": 22, "maxExtent": 22, "titlePadding": 8, "titleFontSize": 24, "titleFontStyle": "italic", "titleColor": "#e8383d", "labelColor": "#e6606a", "titleAngle": -90, "titleBaseline": "top"}}, "y2": {"field": "hi"}}},
   {"data": {"name": "b_in"}, "mark": {"type": "line", "color": "#e377c2", "strokeWidth": 0.9, "opacity": 0.7}, "encoding": {"y": {"field": "z1", "type": "quantitative", "scale": {"domain": [-0.148, 1.081], "nice": false, "zero": false}, "axis": null}}},
   {"data": {"name": "b_in"}, "mark": {"type": "line", "color": "#8c564b", "strokeWidth": 0.9, "opacity": 0.7}, "encoding": {"y": {"field": "z2", "type": "quantitative", "scale": {"domain": [-0.148, 1.081], "nice": false, "zero": false}, "axis": null}}},
   {"data": {"name": "b_in"}, "mark": {"type": "line", "color": "#bcbd22", "strokeWidth": 0.9, "opacity": 0.7}, "encoding": {"y": {"field": "hi", "type": "quantitative", "scale": {"domain": [-0.148, 1.081], "nice": false, "zero": false}, "axis": null}}},
   {"data": {"name": "b_in"}, "mark": {"type": "line", "color": "#1f77b4", "strokeWidth": 0.9, "opacity": 0.6}, "encoding": {"y": {"field": "lo", "type": "quantitative", "scale": {"domain": [-0.148, 1.081], "nice": false, "zero": false}, "axis": null}}},
   {"data": {"name": "b_nb"}, "mark": {"type": "area", "color": "#1f77b4", "opacity": 0.3}, "encoding": {"y": {"field": "lo", "type": "quantitative", "scale": {"domain": [-0.183, 1.053], "nice": false, "zero": false}, "axis": null}, "y2": {"field": "hi"}}},
   {"data": {"name": "b_ib"}, "mark": {"type": "area", "color": "#f03a3a", "opacity": 0.3}, "encoding": {"y": {"field": "lo", "type": "quantitative", "scale": {"domain": [-0.148, 1.081], "nice": false, "zero": false}, "axis": null}, "y2": {"field": "hi"}}},
   {"data": {"name": "b_nl"}, "mark": {"type": "line", "color": "#1f77b4", "strokeWidth": 1.8}, "encoding": {"y": {"field": "v", "type": "quantitative", "scale": {"domain": [-0.183, 1.053], "nice": false, "zero": false}, "axis": null}}},
   {"data": {"name": "b_il"}, "mark": {"type": "line", "color": "#e8141c", "strokeWidth": 1.8}, "encoding": {"y": {"field": "v", "type": "quantitative", "scale": {"domain": [-0.148, 1.081], "nice": false, "zero": false}, "axis": null}}},
   {"data": {"name": "b_nd"}, "mark": {"type": "point", "filled": true, "color": "#1a1a1a", "size": 12, "opacity": 1}, "encoding": {"y": {"field": "v", "type": "quantitative", "scale": {"domain": [-0.183, 1.053], "nice": false, "zero": false}, "axis": null}}},
   {"data": {"name": "b_id"}, "mark": {"type": "point", "filled": true, "color": "#2b1b1b", "size": 12, "opacity": 1}, "encoding": {"y": {"field": "v", "type": "quantitative", "scale": {"domain": [-0.148, 1.081], "nice": false, "zero": false}, "axis": null}}},
   {"data": {"name": "leg"}, "mark": {"type": "point", "filled": true, "opacity": 0, "size": 1}, "encoding": {"x": {"value": 0}, "y": {"value": 0},
     "shape": {"field": "lab", "type": "nominal", "scale": {"domain": ["Target", "Unperturbed prediction", "Prediction interval region"], "range": ["M-2.2,-0.16H-0.25V0.16H-2.2Z M0.25,-0.16H2.2V0.16H0.25Z", "M-1.55,0A0.45,0.45,0,1,0,-0.65,0A0.45,0.45,0,1,0,-1.55,0Z M0.65,0A0.45,0.45,0,1,0,1.55,0A0.45,0.45,0,1,0,0.65,0Z", "M-2,-0.85H-0.15V0.85H-2Z M0.15,-0.85H2V0.85H0.15Z"]}, "legend": {"title": "LSTM-FC: Stirred mixer", "orient": "bottom-right"}},
     "color": {"field": "lab", "type": "nominal", "scale": {"domain": ["Target", "Unperturbed prediction", "Prediction interval region"], "range": [{"expr": "({gradient: 'linear', stops: [{offset: 0, color: '#1f77b4'}, {offset: 0.5, color: '#1f77b4'}, {offset: 0.5, color: '#e8141c'}, {offset: 1, color: '#e8141c'}]})"}, "#1a1a1a", {"expr": "({gradient: 'linear', stops: [{offset: 0, color: '#a9cbe6'}, {offset: 0.5, color: '#a9cbe6'}, {offset: 0.5, color: '#f7b1b1'}, {offset: 1, color: '#f7b1b1'}]})"}]}, "legend": {"title": "LSTM-FC: Stirred mixer", "orient": "bottom-right"}}}}
  ],
  "resolve": {"scale": {"y": "independent"}}
 },
 {"width": 402, "height": 259,
  "title": {"text": "c", "orient": "bottom", "offset": 9},
  "encoding": {"x": {"field": "t", "type": "quantitative", "scale": {"domain": [-5, 104], "nice": false, "zero": false}, "axis": {"values": [0,20,40,60,80,100], "title": "Time steps"}}},
  "layer": [
   {"data": {"name": "c_nn"}, "mark": {"type": "area", "color": "#b5a583", "opacity": 0.45}, "encoding": {"y": {"field": "lo", "type": "quantitative", "scale": {"domain": [-0.223, 1.196], "nice": false, "zero": false}, "axis": {"title": "N\u2009D", "orient": "left", "values": [-0.2,0,0.2,0.4,0.6,0.8,1], "format": ".1f", "minExtent": 29, "maxExtent": 29, "titlePadding": 2, "titleFontSize": 24, "titleFontStyle": "italic", "titleColor": "#3d8fd6", "labelColor": "#6fa0c8"}}, "y2": {"field": "hi"}}},
   {"data": {"name": "c_nn"}, "mark": {"type": "line", "color": "#ff7f0e", "strokeWidth": 0.9, "opacity": 0.7}, "encoding": {"y": {"field": "z1", "type": "quantitative", "scale": {"domain": [-0.223, 1.196], "nice": false, "zero": false}, "axis": null}}},
   {"data": {"name": "c_nn"}, "mark": {"type": "line", "color": "#2ca02c", "strokeWidth": 0.9, "opacity": 0.7}, "encoding": {"y": {"field": "z2", "type": "quantitative", "scale": {"domain": [-0.223, 1.196], "nice": false, "zero": false}, "axis": null}}},
   {"data": {"name": "c_nn"}, "mark": {"type": "line", "color": "#9467bd", "strokeWidth": 0.9, "opacity": 0.7}, "encoding": {"y": {"field": "hi", "type": "quantitative", "scale": {"domain": [-0.223, 1.196], "nice": false, "zero": false}, "axis": null}}},
   {"data": {"name": "c_nn"}, "mark": {"type": "line", "color": "#17becf", "strokeWidth": 0.9, "opacity": 0.7}, "encoding": {"y": {"field": "lo", "type": "quantitative", "scale": {"domain": [-0.223, 1.196], "nice": false, "zero": false}, "axis": null}}},
   {"data": {"name": "c_in"}, "mark": {"type": "area", "color": "#b5a583", "opacity": 0.45}, "encoding": {"y": {"field": "lo", "type": "quantitative", "scale": {"domain": [-0.164, 1.094], "nice": false, "zero": false}, "axis": {"title": "I\u2009A", "orient": "right", "values": [0,0.2,0.4,0.6,0.8,1], "format": ".1f", "minExtent": 22, "maxExtent": 22, "titlePadding": 8, "titleFontSize": 24, "titleFontStyle": "italic", "titleColor": "#e8383d", "labelColor": "#e6606a", "titleAngle": -90, "titleBaseline": "top"}}, "y2": {"field": "hi"}}},
   {"data": {"name": "c_in"}, "mark": {"type": "line", "color": "#e377c2", "strokeWidth": 0.9, "opacity": 0.7}, "encoding": {"y": {"field": "z1", "type": "quantitative", "scale": {"domain": [-0.164, 1.094], "nice": false, "zero": false}, "axis": null}}},
   {"data": {"name": "c_in"}, "mark": {"type": "line", "color": "#8c564b", "strokeWidth": 0.9, "opacity": 0.7}, "encoding": {"y": {"field": "z2", "type": "quantitative", "scale": {"domain": [-0.164, 1.094], "nice": false, "zero": false}, "axis": null}}},
   {"data": {"name": "c_in"}, "mark": {"type": "line", "color": "#bcbd22", "strokeWidth": 0.9, "opacity": 0.7}, "encoding": {"y": {"field": "hi", "type": "quantitative", "scale": {"domain": [-0.164, 1.094], "nice": false, "zero": false}, "axis": null}}},
   {"data": {"name": "c_in"}, "mark": {"type": "line", "color": "#1f77b4", "strokeWidth": 0.9, "opacity": 0.6}, "encoding": {"y": {"field": "lo", "type": "quantitative", "scale": {"domain": [-0.164, 1.094], "nice": false, "zero": false}, "axis": null}}},
   {"data": {"name": "c_nb"}, "mark": {"type": "area", "color": "#1f77b4", "opacity": 0.3}, "encoding": {"y": {"field": "lo", "type": "quantitative", "scale": {"domain": [-0.223, 1.196], "nice": false, "zero": false}, "axis": null}, "y2": {"field": "hi"}}},
   {"data": {"name": "c_ib"}, "mark": {"type": "area", "color": "#f03a3a", "opacity": 0.3}, "encoding": {"y": {"field": "lo", "type": "quantitative", "scale": {"domain": [-0.164, 1.094], "nice": false, "zero": false}, "axis": null}, "y2": {"field": "hi"}}},
   {"data": {"name": "c_nl"}, "mark": {"type": "line", "color": "#1f77b4", "strokeWidth": 1.8}, "encoding": {"y": {"field": "v", "type": "quantitative", "scale": {"domain": [-0.223, 1.196], "nice": false, "zero": false}, "axis": null}}},
   {"data": {"name": "c_il"}, "mark": {"type": "line", "color": "#e8141c", "strokeWidth": 1.8}, "encoding": {"y": {"field": "v", "type": "quantitative", "scale": {"domain": [-0.164, 1.094], "nice": false, "zero": false}, "axis": null}}},
   {"data": {"name": "c_nd"}, "mark": {"type": "point", "filled": true, "color": "#1a1a1a", "size": 22, "opacity": 1}, "encoding": {"y": {"field": "v", "type": "quantitative", "scale": {"domain": [-0.223, 1.196], "nice": false, "zero": false}, "axis": null}}},
   {"data": {"name": "c_id"}, "mark": {"type": "point", "filled": true, "color": "#2b1b1b", "size": 22, "opacity": 1}, "encoding": {"y": {"field": "v", "type": "quantitative", "scale": {"domain": [-0.164, 1.094], "nice": false, "zero": false}, "axis": null}}},
   {"data": {"name": "leg"}, "mark": {"type": "point", "filled": true, "opacity": 0, "size": 1}, "encoding": {"x": {"value": 0}, "y": {"value": 0},
     "shape": {"field": "lab", "type": "nominal", "scale": {"domain": ["Target", "Unperturbed prediction", "Prediction interval region"], "range": ["M-2.2,-0.16H-0.25V0.16H-2.2Z M0.25,-0.16H2.2V0.16H0.25Z", "M-1.55,0A0.45,0.45,0,1,0,-0.65,0A0.45,0.45,0,1,0,-1.55,0Z M0.65,0A0.45,0.45,0,1,0,1.55,0A0.45,0.45,0,1,0,0.65,0Z", "M-2,-0.85H-0.15V0.85H-2Z M0.15,-0.85H2V0.85H0.15Z"]}, "legend": {"title": "Encoder-decoder: Static mixer", "orient": "top-left"}},
     "color": {"field": "lab", "type": "nominal", "scale": {"domain": ["Target", "Unperturbed prediction", "Prediction interval region"], "range": [{"expr": "({gradient: 'linear', stops: [{offset: 0, color: '#1f77b4'}, {offset: 0.5, color: '#1f77b4'}, {offset: 0.5, color: '#e8141c'}, {offset: 1, color: '#e8141c'}]})"}, "#1a1a1a", {"expr": "({gradient: 'linear', stops: [{offset: 0, color: '#a9cbe6'}, {offset: 0.5, color: '#a9cbe6'}, {offset: 0.5, color: '#f7b1b1'}, {offset: 1, color: '#f7b1b1'}]})"}]}, "legend": {"title": "Encoder-decoder: Static mixer", "orient": "top-left"}}}}
  ],
  "resolve": {"scale": {"y": "independent"}}
 },
 {"width": 411, "height": 259,
  "title": {"text": "d", "orient": "bottom", "offset": 9},
  "encoding": {"x": {"field": "t", "type": "quantitative", "scale": {"domain": [-18, 416], "nice": false, "zero": false}, "axis": {"values": [0,100,200,300,400], "title": "Time steps"}}},
  "layer": [
   {"data": {"name": "d_nn"}, "mark": {"type": "area", "color": "#b5a583", "opacity": 0.45}, "encoding": {"y": {"field": "lo", "type": "quantitative", "scale": {"domain": [-0.193, 1.033], "nice": false, "zero": false}, "axis": {"title": "N\u2009D", "orient": "left", "values": [0,0.2,0.4,0.6,0.8,1], "format": ".1f", "minExtent": 22, "maxExtent": 22, "titlePadding": 2, "titleFontSize": 24, "titleFontStyle": "italic", "titleColor": "#3d8fd6", "labelColor": "#6fa0c8"}}, "y2": {"field": "hi"}}},
   {"data": {"name": "d_nn"}, "mark": {"type": "line", "color": "#ff7f0e", "strokeWidth": 0.9, "opacity": 0.7}, "encoding": {"y": {"field": "z1", "type": "quantitative", "scale": {"domain": [-0.193, 1.033], "nice": false, "zero": false}, "axis": null}}},
   {"data": {"name": "d_nn"}, "mark": {"type": "line", "color": "#2ca02c", "strokeWidth": 0.9, "opacity": 0.7}, "encoding": {"y": {"field": "z2", "type": "quantitative", "scale": {"domain": [-0.193, 1.033], "nice": false, "zero": false}, "axis": null}}},
   {"data": {"name": "d_nn"}, "mark": {"type": "line", "color": "#9467bd", "strokeWidth": 0.9, "opacity": 0.7}, "encoding": {"y": {"field": "hi", "type": "quantitative", "scale": {"domain": [-0.193, 1.033], "nice": false, "zero": false}, "axis": null}}},
   {"data": {"name": "d_nn"}, "mark": {"type": "line", "color": "#17becf", "strokeWidth": 0.9, "opacity": 0.7}, "encoding": {"y": {"field": "lo", "type": "quantitative", "scale": {"domain": [-0.193, 1.033], "nice": false, "zero": false}, "axis": null}}},
   {"data": {"name": "d_in"}, "mark": {"type": "area", "color": "#b5a583", "opacity": 0.45}, "encoding": {"y": {"field": "lo", "type": "quantitative", "scale": {"domain": [-0.155, 1.048], "nice": false, "zero": false}, "axis": {"title": "I\u2009A", "orient": "right", "values": [0,0.2,0.4,0.6,0.8,1], "format": ".1f", "minExtent": 22, "maxExtent": 22, "titlePadding": 8, "titleFontSize": 24, "titleFontStyle": "italic", "titleColor": "#e8383d", "labelColor": "#e6606a", "titleAngle": -90, "titleBaseline": "top"}}, "y2": {"field": "hi"}}},
   {"data": {"name": "d_in"}, "mark": {"type": "line", "color": "#e377c2", "strokeWidth": 0.9, "opacity": 0.7}, "encoding": {"y": {"field": "z1", "type": "quantitative", "scale": {"domain": [-0.155, 1.048], "nice": false, "zero": false}, "axis": null}}},
   {"data": {"name": "d_in"}, "mark": {"type": "line", "color": "#8c564b", "strokeWidth": 0.9, "opacity": 0.7}, "encoding": {"y": {"field": "z2", "type": "quantitative", "scale": {"domain": [-0.155, 1.048], "nice": false, "zero": false}, "axis": null}}},
   {"data": {"name": "d_in"}, "mark": {"type": "line", "color": "#bcbd22", "strokeWidth": 0.9, "opacity": 0.7}, "encoding": {"y": {"field": "hi", "type": "quantitative", "scale": {"domain": [-0.155, 1.048], "nice": false, "zero": false}, "axis": null}}},
   {"data": {"name": "d_in"}, "mark": {"type": "line", "color": "#1f77b4", "strokeWidth": 0.9, "opacity": 0.6}, "encoding": {"y": {"field": "lo", "type": "quantitative", "scale": {"domain": [-0.155, 1.048], "nice": false, "zero": false}, "axis": null}}},
   {"data": {"name": "d_nb"}, "mark": {"type": "area", "color": "#1f77b4", "opacity": 0.3}, "encoding": {"y": {"field": "lo", "type": "quantitative", "scale": {"domain": [-0.193, 1.033], "nice": false, "zero": false}, "axis": null}, "y2": {"field": "hi"}}},
   {"data": {"name": "d_ib"}, "mark": {"type": "area", "color": "#f03a3a", "opacity": 0.3}, "encoding": {"y": {"field": "lo", "type": "quantitative", "scale": {"domain": [-0.155, 1.048], "nice": false, "zero": false}, "axis": null}, "y2": {"field": "hi"}}},
   {"data": {"name": "d_nl"}, "mark": {"type": "line", "color": "#1f77b4", "strokeWidth": 1.8}, "encoding": {"y": {"field": "v", "type": "quantitative", "scale": {"domain": [-0.193, 1.033], "nice": false, "zero": false}, "axis": null}}},
   {"data": {"name": "d_il"}, "mark": {"type": "line", "color": "#e8141c", "strokeWidth": 1.8}, "encoding": {"y": {"field": "v", "type": "quantitative", "scale": {"domain": [-0.155, 1.048], "nice": false, "zero": false}, "axis": null}}},
   {"data": {"name": "d_nd"}, "mark": {"type": "point", "filled": true, "color": "#1a1a1a", "size": 12, "opacity": 1}, "encoding": {"y": {"field": "v", "type": "quantitative", "scale": {"domain": [-0.193, 1.033], "nice": false, "zero": false}, "axis": null}}},
   {"data": {"name": "d_id"}, "mark": {"type": "point", "filled": true, "color": "#2b1b1b", "size": 12, "opacity": 1}, "encoding": {"y": {"field": "v", "type": "quantitative", "scale": {"domain": [-0.155, 1.048], "nice": false, "zero": false}, "axis": null}}},
   {"data": {"name": "leg"}, "mark": {"type": "point", "filled": true, "opacity": 0, "size": 1}, "encoding": {"x": {"value": 0}, "y": {"value": 0},
     "shape": {"field": "lab", "type": "nominal", "scale": {"domain": ["Target", "Unperturbed prediction", "Prediction interval region"], "range": ["M-2.2,-0.16H-0.25V0.16H-2.2Z M0.25,-0.16H2.2V0.16H0.25Z", "M-1.55,0A0.45,0.45,0,1,0,-0.65,0A0.45,0.45,0,1,0,-1.55,0Z M0.65,0A0.45,0.45,0,1,0,1.55,0A0.45,0.45,0,1,0,0.65,0Z", "M-2,-0.85H-0.15V0.85H-2Z M0.15,-0.85H2V0.85H0.15Z"]}, "legend": {"title": "Encoder-decoder: Stirred mixer", "orient": "bottom-right"}},
     "color": {"field": "lab", "type": "nominal", "scale": {"domain": ["Target", "Unperturbed prediction", "Prediction interval region"], "range": [{"expr": "({gradient: 'linear', stops: [{offset: 0, color: '#1f77b4'}, {offset: 0.5, color: '#1f77b4'}, {offset: 0.5, color: '#e8141c'}, {offset: 1, color: '#e8141c'}]})"}, "#1a1a1a", {"expr": "({gradient: 'linear', stops: [{offset: 0, color: '#a9cbe6'}, {offset: 0.5, color: '#a9cbe6'}, {offset: 0.5, color: '#f7b1b1'}, {offset: 1, color: '#f7b1b1'}]})"}]}, "legend": {"title": "Encoder-decoder: Stirred mixer", "orient": "bottom-right"}}}}
  ],
  "resolve": {"scale": {"y": "independent"}}
 }
]
}
